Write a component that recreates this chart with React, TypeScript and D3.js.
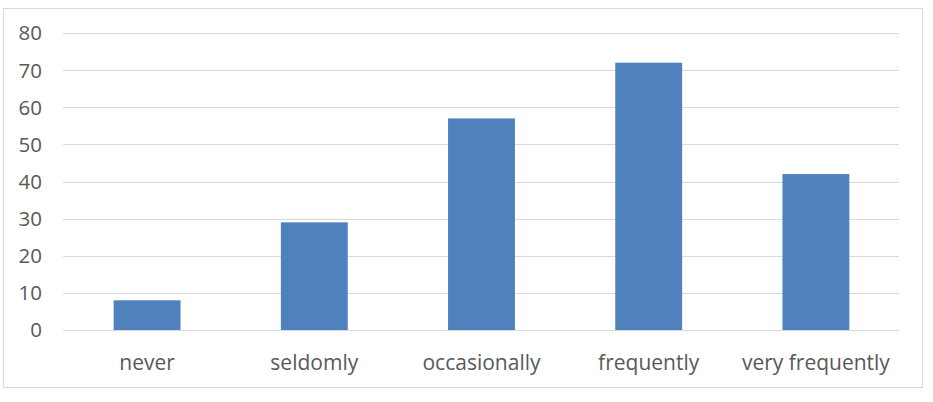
import React, { useEffect, useRef } from "react";
import * as d3 from "d3";

const categories = ["never", "seldomly", "occasionally", "frequently", "very frequently"];
const values = [8, 29, 57, 72, 42];
const yTicks = [0, 10, 20, 30, 40, 50, 60, 70, 80];

const App = () => {
  const ref = useRef<SVGSVGElement>(null);

  useEffect(() => {
    const svg = d3.select(ref.current);
    svg.selectAll("*").remove();

    const width = 933;
    const height = 402;
    const plot = { left: 63, right: 899, top: 33, bottom: 330 };
    const font = "'Open Sans', 'Noto Sans', sans-serif";
    const textColor = "#595959";

    // outer frame
    svg
      .append("rect")
      .attr("x", 3.5)
      .attr("y", 8.5)
      .attr("width", 919)
      .attr("height", 379)
      .attr("fill", "#fff")
      .attr("stroke", "#d9d9d9");

    const x = d3
      .scaleBand()
      .domain(categories)
      .range([plot.left + 0.5, plot.right + 0.5])
      .paddingInner(0.6)
      .paddingOuter(0.3);

    const y = d3.scaleLinear().domain([0, 80]).range([plot.bottom, plot.top]);

    // gridlines
    svg
      .append("g")
      .selectAll("line")
      .data(yTicks)
      .enter()
      .append("line")
      .attr("x1", plot.left)
      .attr("x2", plot.right)
      .attr("y1", (d) => Math.round(y(d)) + 0.5)
      .attr("y2", (d) => Math.round(y(d)) + 0.5)
      .attr("stroke", "#d9d9d9")
      .attr("stroke-width", 1);

    // y labels
    svg
      .append("g")
      .selectAll("text")
      .data(yTicks)
      .enter()
      .append("text")
      .attr("x", 42)
      .attr("y", (d) => y(d))
      .attr("dy", "0.36em")
      .attr("text-anchor", "end")
      .attr("font-family", font)
      .attr("font-size", 20.5)
      .attr("fill", textColor)
      .text((d) => d);

    // bars
    svg
      .append("g")
      .selectAll("rect")
      .data(values)
      .enter()
      .append("rect")
      .attr("x", (d, i) => x(categories[i])!)
      .attr("y", (d) => y(d))
      .attr("width", x.bandwidth())
      .attr("height", (d) => y(0) - y(d))
      .attr("fill", "#4f81bd");

    // category labels
    svg
      .append("g")
      .selectAll("text")
      .data(categories)
      .enter()
      .append("text")
      .attr("x", (d) => x(d)! + x.bandwidth() / 2)
      .attr("y", 362)
      .attr("dy", "0.36em")
      .attr("text-anchor", "middle")
      .attr("font-family", font)
      .attr("font-size", 21)
      .attr("fill", textColor)
      .text((d) => d);

    svg.attr("width", width).attr("height", height);
  }, []);

  return (
    <svg
      ref={ref}
      width={933}
      height={402}
      style={{ position: "absolute", left: 0, top: 0, display: "block" }}
    />
  );
};

export default App;
